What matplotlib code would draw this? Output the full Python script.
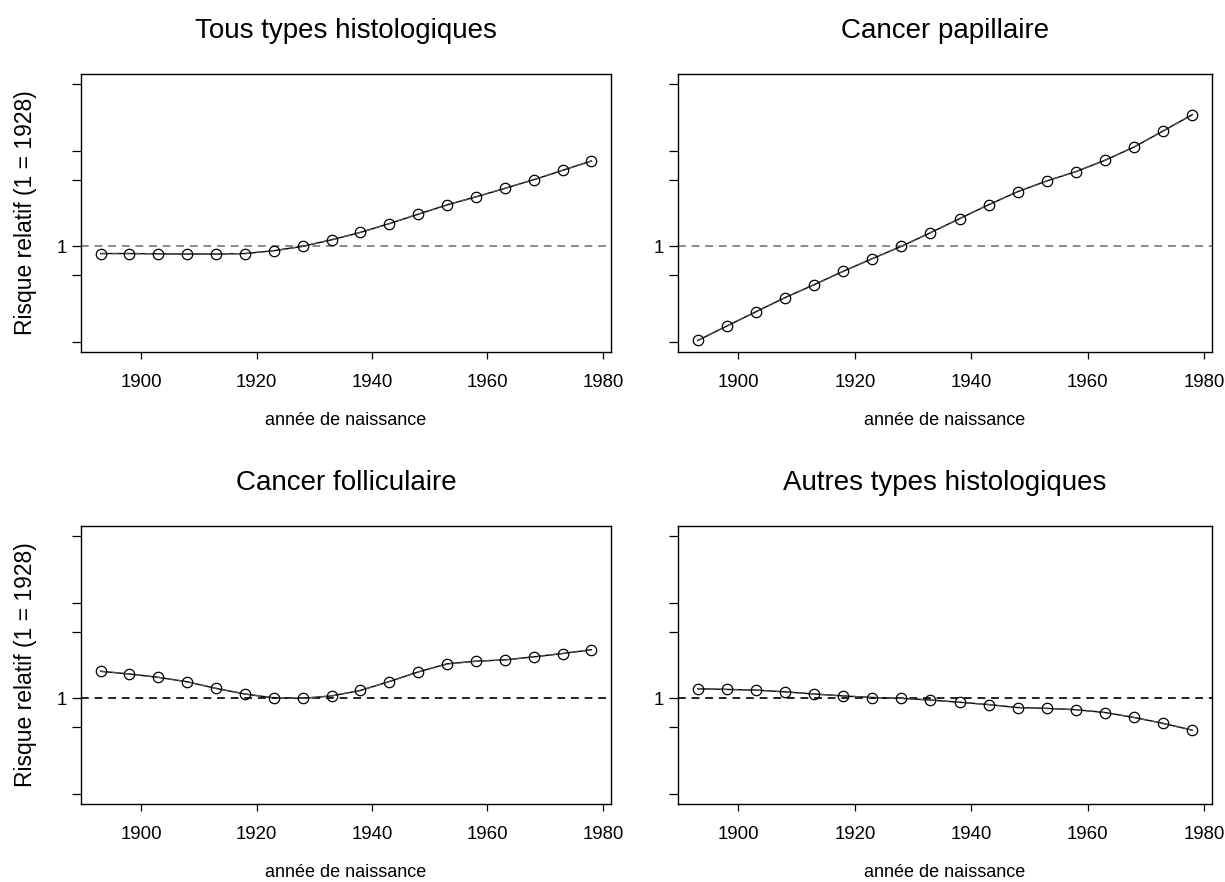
import numpy as np
import matplotlib
matplotlib.use("Agg")
import matplotlib.pyplot as plt
from matplotlib.ticker import FixedLocator, FixedFormatter, NullLocator

plt.rcParams['font.family'] = ['Liberation Sans', 'DejaVu Sans']

years = [1893, 1898, 1903, 1908, 1913, 1918, 1923, 1928, 1933, 1938,
         1943, 1948, 1953, 1958, 1963, 1968, 1973, 1978]

rr_tous = [0.84, 0.84, 0.835, 0.83, 0.83, 0.84, 0.90, 1.00, 1.17, 1.40,
           1.73, 2.17, 2.72, 3.30, 4.05, 4.99, 6.26, 7.85]
rr_papillaire = [0.103, 0.146, 0.206, 0.29, 0.396, 0.547, 0.743, 1.00, 1.39, 1.95,
                 2.73, 3.74, 4.85, 6.07, 7.98, 11.0, 16.2, 24.0]
rr_folliculaire = [1.92, 1.80, 1.66, 1.49, 1.27, 1.11, 1.01, 1.00, 1.06, 1.21,
                   1.50, 1.89, 2.30, 2.45, 2.53, 2.72, 2.95, 3.23]
rr_autres = [1.26, 1.24, 1.22, 1.17, 1.11, 1.06, 1.02, 1.00, 0.96, 0.91,
             0.86, 0.80, 0.785, 0.76, 0.71, 0.63, 0.546, 0.464]

titles = ["Tous types histologiques", "Cancer papillaire",
          "Cancer folliculaire", "Autres types histologiques"]
series = [rr_tous, rr_papillaire, rr_folliculaire, rr_autres]

y_ticks = [0.1, 0.5, 1, 5, 10, 50]
y_labels = ["", "", "1", "", "", ""]
x_ticks = [1900, 1920, 1940, 1960, 1980]
ylab = "Risque relatif (1 = 1928)"
xlab = "année de naissance"

W, H = 1225, 882
fig = plt.figure(figsize=(W / 100, H / 100), dpi=100)

# boxes in pixels: (left, top, right, bottom)
boxes = [(81, 74, 611, 352), (678, 74, 1212, 352),
         (81, 526, 611, 804), (678, 526, 1212, 804)]
ref_colors = ["#8a8a8a", "#8a8a8a", "#222222", "#222222"]

xr = (min(years), max(years))
xpad = 0.04 * (xr[1] - xr[0])
ly = np.log10([0.1, 50])
ypad = 0.04 * (ly[1] - ly[0])

for i, (b, t, s, rc) in enumerate(zip(boxes, titles, series, ref_colors)):
    l, tp, r, bt = b
    ax = fig.add_axes([l / W, 1 - bt / H, (r - l) / W, (bt - tp) / H])
    ax.set_yscale('log')
    ax.set_xlim(xr[0] - xpad, xr[1] + xpad)
    ax.set_ylim(10 ** (ly[0] - ypad), 10 ** (ly[1] + ypad))
    ax.axhline(1, color=rc, lw=1.4, ls=(0, (4, 3)), zorder=1)
    ax.plot(years, s, color='black', lw=1.0, zorder=2)
    ax.plot(years, s, color='#555555', lw=1.0, ls=(0, (5, 3)), zorder=3)
    ax.plot(years, s, ls='none', marker='o', ms=7.5, mfc='none', mec='black',
            mew=0.9, zorder=4)
    ax.yaxis.set_major_locator(FixedLocator(y_ticks))
    ax.yaxis.set_major_formatter(FixedFormatter(y_labels))
    ax.yaxis.set_minor_locator(NullLocator())
    ax.set_xticks(x_ticks)
    ax.tick_params(axis='both', direction='out', width=0.9,
                   labelsize=13.4, colors='black')
    ax.tick_params(axis='x', length=5, pad=11)
    ax.tick_params(axis='y', length=6.5, pad=4)
    for sp in ax.spines.values():
        sp.set_linewidth(1.0)
    ax.set_title(t, fontsize=20, pad=26)
    ax.set_xlabel(xlab, fontsize=13, labelpad=15)
    if i % 2 == 0:
        ax.set_ylabel(ylab, fontsize=16.5, labelpad=14)

fig.savefig("out.png", dpi=100)
